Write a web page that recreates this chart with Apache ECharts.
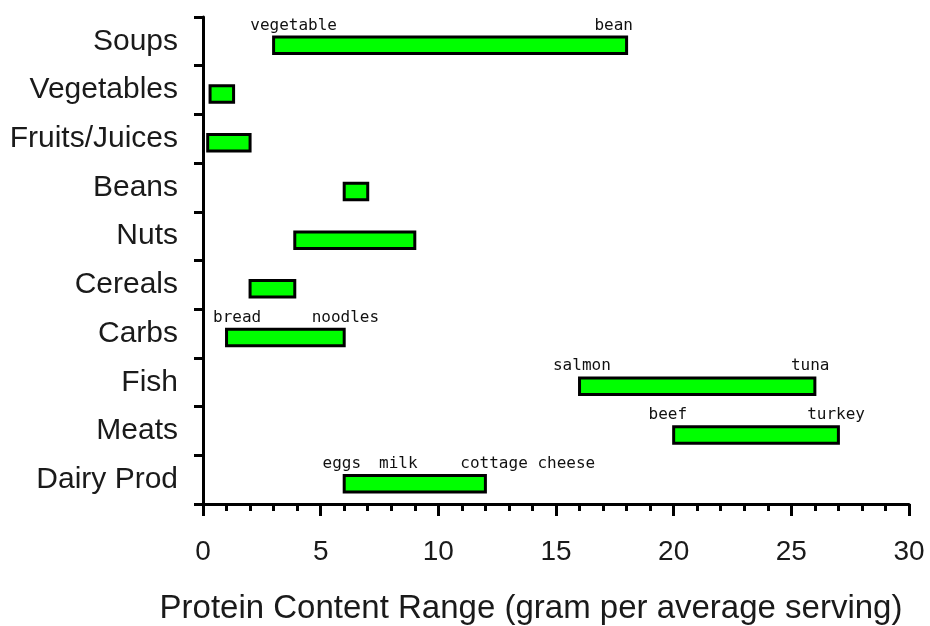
<!DOCTYPE html>
<html>
<head>
<meta charset="utf-8">
<script src="https://cdn.jsdelivr.net/npm/echarts@6/dist/echarts.min.js"></script>
<style>html,body{margin:0;padding:0;background:#fff;}#c{width:930px;height:626px;}</style>
</head>
<body>
<div id="c"></div>
<script>
// Data
const categories = ['Soups','Vegetables','Fruits/Juices','Beans','Nuts','Cereals','Carbs','Fish','Meats','Dairy Prod'];
const rangeLow  = [3, 0.3, 0.2, 6, 3.9, 2, 1, 16, 20, 6];
const rangeHigh = [18, 1.3, 2, 7, 9, 3.9, 6, 26, 27, 12];
const xTicks = [0, 5, 10, 15, 20, 25, 30];
const noteText = ['vegetable','bean','bread','noodles','salmon','tuna','beef','turkey','eggs','milk','cottage cheese'];
const noteCategory = ['Soups','Soups','Carbs','Carbs','Fish','Fish','Meats','Meats','Dairy Prod','Dairy Prod','Dairy Prod'];
const noteValue = [3.85, 17.45, 1.45, 6.05, 16.1, 25.8, 19.75, 26.9, 5.9, 8.3, 13.8];

const chart = echarts.init(document.getElementById('c'));
const barData = categories.map((c, i) => [i, rangeLow[i], rangeHigh[i]]);
const noteData = noteText.map((t, i) => [noteValue[i], categories.indexOf(noteCategory[i]), t]);

chart.setOption({
  animation: false,
  grid: { left: 203, right: 21, top: 17, bottom: 122, containLabel: false, outerBoundsMode: 'none' },
  xAxis: {
    type: 'value', min: xTicks[0], max: xTicks[xTicks.length - 1], interval: 5,
    name: 'Protein Content Range (gram per average serving)',
    nameLocation: 'middle', nameGap: 88,
    nameTextStyle: { fontFamily: 'Liberation Sans', fontSize: 33, color: '#1a1a1a', padding: [0, 50, 0, 0] },
    axisLine: { show: true, lineStyle: { color: '#000', width: 3 } },
    axisTick: { show: true, length: 12, lineStyle: { color: '#000', width: 3 } },
    minorTick: { show: true, splitNumber: 5, length: 7, lineStyle: { color: '#000', width: 3 } },
    axisLabel: { margin: 34, fontFamily: 'Liberation Sans', fontSize: 28, color: '#1a1a1a' },
    splitLine: { show: false }
  },
  yAxis: {
    type: 'category', data: categories, inverse: true,
    axisLine: { show: true, lineStyle: { color: '#000', width: 3 } },
    axisTick: { show: true, length: 9, lineStyle: { color: '#000', width: 3 } },
    axisLabel: { margin: 25, fontFamily: 'Liberation Sans', fontSize: 30, color: '#1a1a1a' },
    splitLine: { show: false }
  },
  series: [
    {
      type: 'custom',
      data: barData,
      encode: { x: [1, 2], y: 0 },
      renderItem: function (params, api) {
        const idx = api.value(0);
        const p0 = api.coord([api.value(1), idx]);
        const p1 = api.coord([api.value(2), idx]);
        const h = 16.5;
        return {
          type: 'rect',
          shape: { x: p0[0], y: p0[1] - h / 2 + 4, width: p1[0] - p0[0], height: h },
          style: { fill: '#00ff00', stroke: '#000', lineWidth: 3 }
        };
      }
    },
    {
      type: 'custom',
      data: noteData,
      encode: { x: 0, y: 1 },
      renderItem: function (params, api) {
        const p = api.coord([api.value(0), api.value(1)]);
        return {
          type: 'text',
          style: {
            x: p[0], y: p[1] - 16,
            text: noteData[params.dataIndex][2],
            fill: '#111',
            font: '16px "DejaVu Sans Mono"',
            align: 'center', verticalAlign: 'middle'
          }
        };
      }
    }
  ]
});
</script>
</body>
</html>
